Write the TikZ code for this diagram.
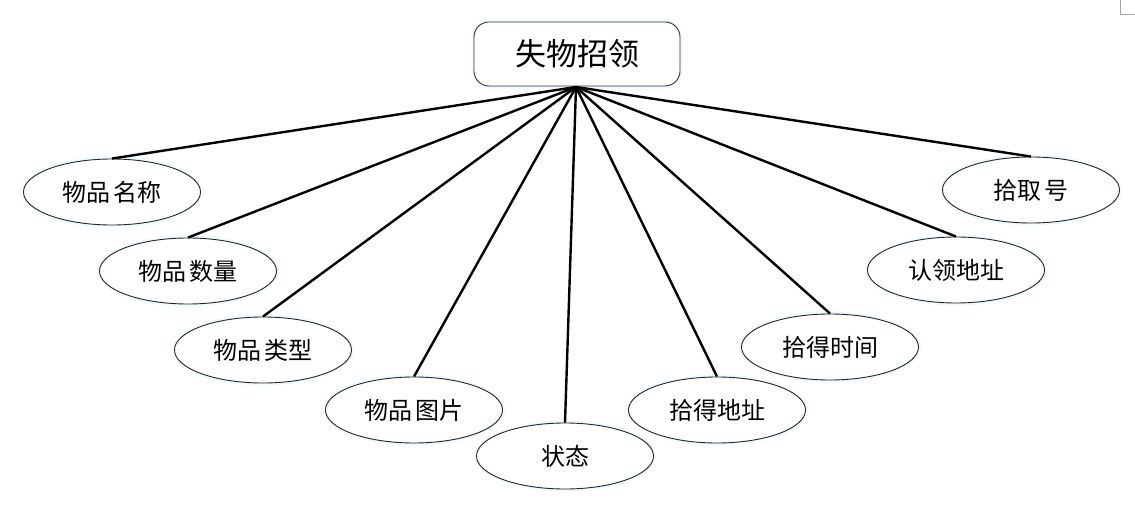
\documentclass[tikz,border=0pt]{standalone}
\usepackage{fontspec}
\setmainfont{Noto Sans CJK SC}
\usetikzlibrary{shapes.geometric}
\tikzset{
  glow/.style={preaction={draw=cyan!6, line width=5pt}},
  attr/.style={ellipse, glow, draw=black!85, line width=0.9pt, fill=white,
    minimum width=177pt, minimum height=66pt, inner sep=0pt,
    font=\fontsize{24}{24}\selectfont},
  topbox/.style={rectangle, glow, rounded corners=15pt, draw=black!80, line width=0.9pt,
    fill=white, minimum width=206pt, minimum height=64pt, inner sep=0pt,
    font=\fontsize{31}{31}\selectfont},
  link/.style={line width=2.4pt, black},
  cornermark/.style={draw=black!35, line width=1pt}
}
\begin{document}
\begin{tikzpicture}[x=1pt,y=-1pt]
\useasboundingbox (0,0) rectangle (1135,521);
\node[topbox] (top) at (577,54) {失物招领};
\node[attr] (e1) at (112,192) {物品\hspace{4pt}名称};
\node[attr] (e2) at (188,271) {物品\hspace{4pt}数量};
\node[attr] (e3) at (263,350) {物品\hspace{4pt}类型};
\node[attr] (e4) at (414,410) {物品\hspace{4pt}图片};
\node[attr] (e5) at (565,456) {状态};
\node[attr] (e6) at (717,410) {拾得地址};
\node[attr] (e7) at (830,347) {拾得时间};
\node[attr] (e8) at (956,270) {认领地址};
\node[attr] (e9) at (1031,190) {拾取\hspace{4pt}号};
\coordinate (apex) at (576,87);
\foreach \e in {e1,e2,e3,e4,e5,e6,e7,e8,e9}
  \draw[link] (apex) -- (\e.north);
\coordinate (m1) at (1120,0);
\coordinate (m2) at (1120,15);
\coordinate (m3) at (1135,15);
\draw[cornermark] (m1) -- (m2) -- (m3);
\end{tikzpicture}
\end{document}
